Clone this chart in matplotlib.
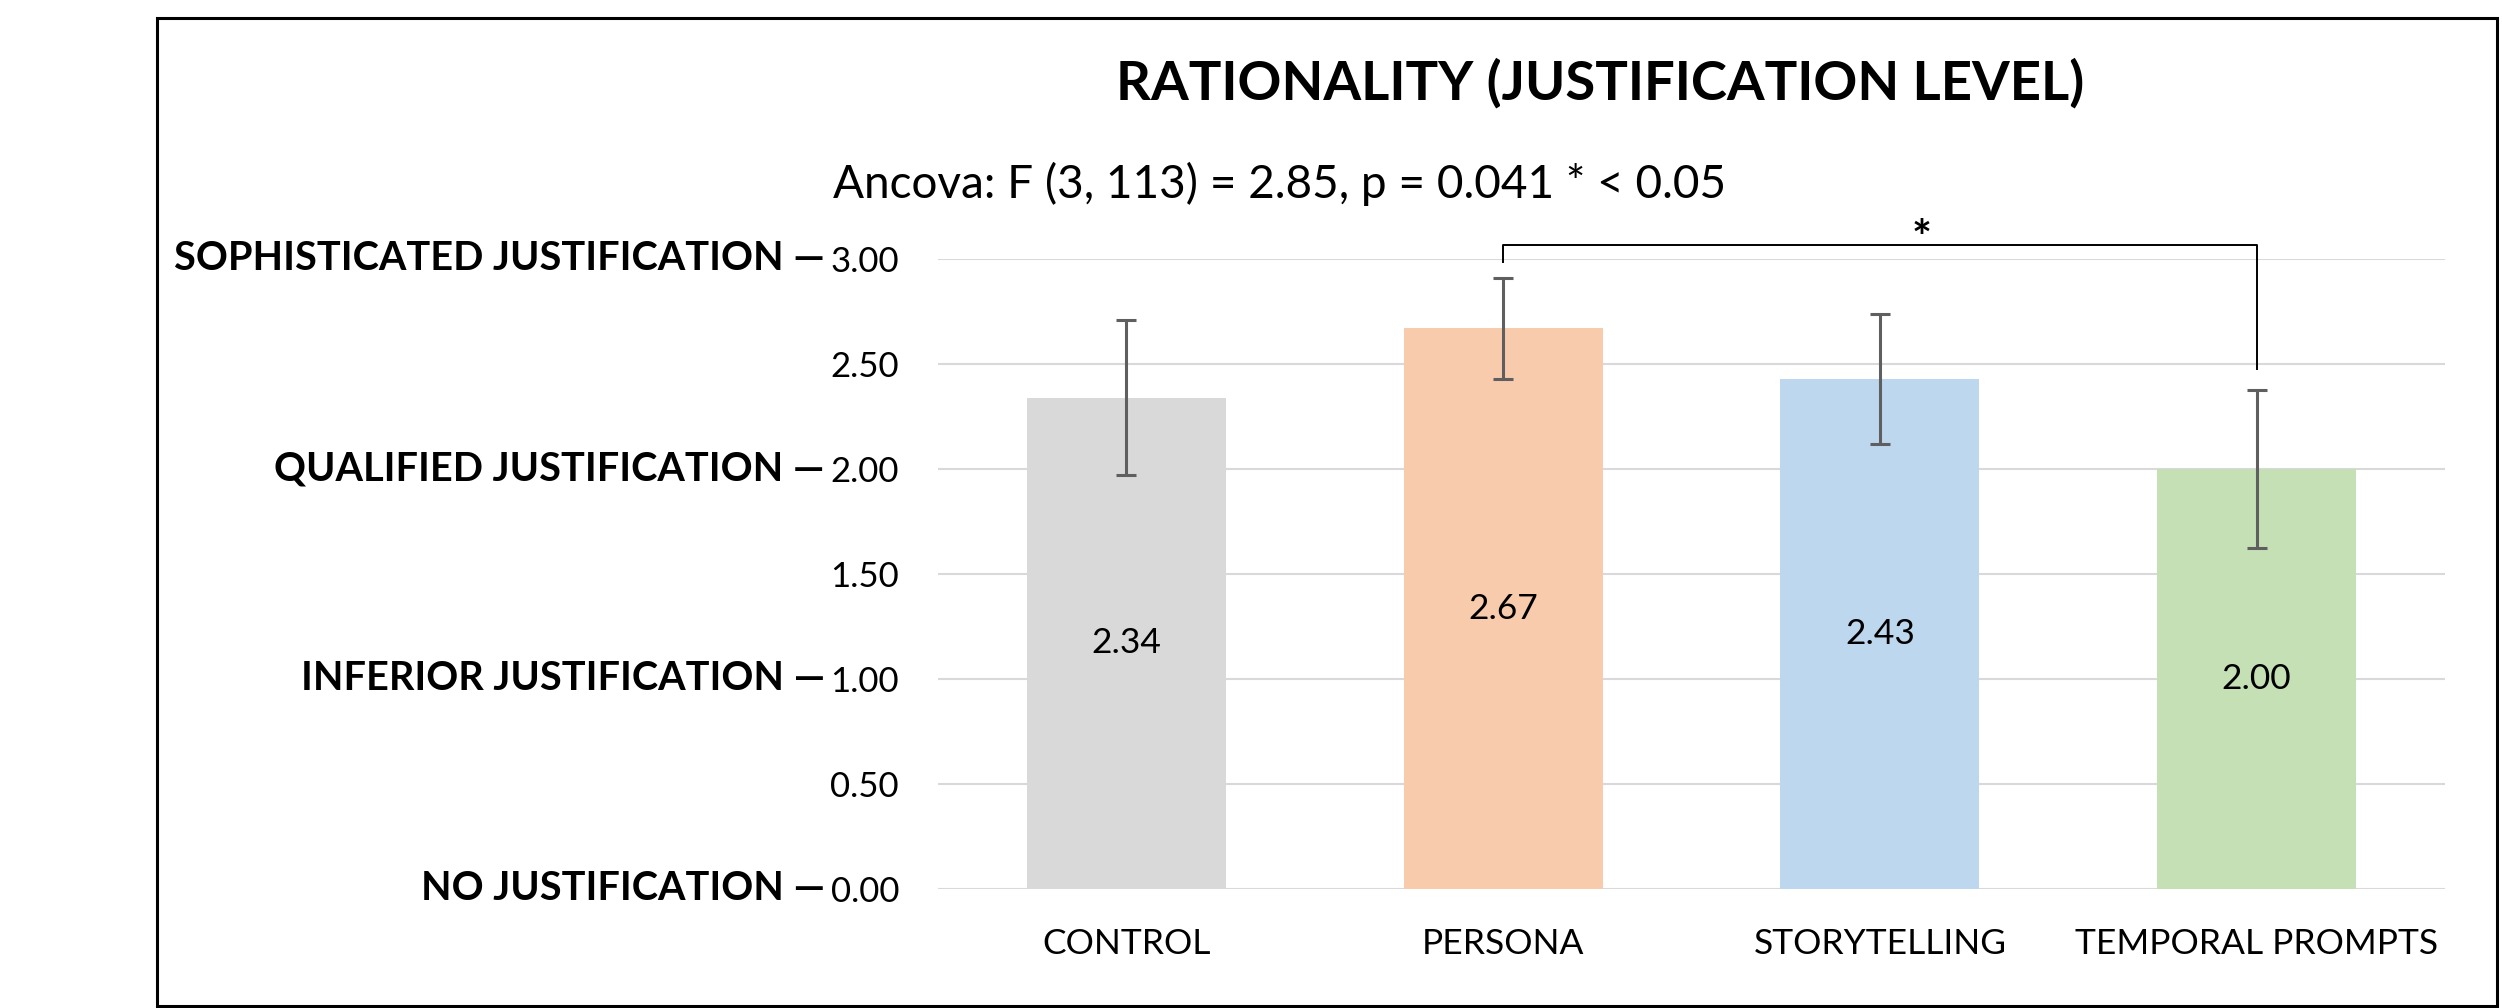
###############################################
# Rationality (justification level) bar chart #
###############################################

import numpy as np
import matplotlib.pyplot as plt
from matplotlib.patches import Rectangle

#############
# Data      #
#############
groups = ['CONTROL', 'PERSONA', 'STORYTELLING', 'TEMPORAL PROMPTS']
means = [2.34, 2.67, 2.43, 2.00]
errors = [0.37, 0.24, 0.31, 0.376]
bar_colors = ['#D9D9D9', '#F8CBAD', '#BDD7EE', '#C5E0B4']

y_ticks = [0.0, 0.5, 1.0, 1.5, 2.0, 2.5, 3.0]
level_values = [3.0, 2.0, 1.0, 0.0]
level_names = ['SOPHISTICATED JUSTIFICATION', 'QUALIFIED JUSTIFICATION',
               'INFERIOR JUSTIFICATION', 'NO JUSTIFICATION']

title = 'RATIONALITY (JUSTIFICATION LEVEL)'
subtitle = 'Ancova: F (3, 113) = 2.85, p = 0.041 * < 0.05'

# significant pair (persona vs temporal prompts)
sig_pair = (1, 3)

plt.rcParams['font.family'] = ['Lato', 'DejaVu Sans']

#############
# Plot      #
#############
fig = plt.figure(figsize=(25.02, 10.08), dpi=100)
ax = fig.add_axes([938 / 2502, 1 - 889 / 1008, 1507 / 2502, 630 / 1008])

x = np.arange(len(groups))
ax.bar(x, means, width=0.528, color=bar_colors, zorder=2)
ax.errorbar(x, means, yerr=errors, fmt='none', ecolor='#5F5F5F',
            elinewidth=2.2, capsize=7.5, capthick=2.2, zorder=3, clip_on=False)

# value labels in the middle of the bars
for xi, v in zip(x, means):
    ax.text(xi, v / 2, f'{v:.2f}', ha='center', va='center', fontsize=25.5, zorder=4)

ax.set_xlim(-0.5, len(groups) - 0.5)
ax.set_ylim(0, 3)
ax.set_yticks(y_ticks)
ax.set_yticklabels([f'{t:.2f}' for t in y_ticks])
ax.set_xticks(x)
ax.set_xticklabels(groups)
ax.tick_params(axis='y', length=0, pad=28, labelsize=25)
ax.tick_params(axis='x', length=0, pad=28, labelsize=25.5)

ax.grid(axis='y', color='#D9D9D9', linewidth=1.5, zorder=0)
ax.set_axisbelow(True)
for s in ax.spines.values():
    s.set_visible(False)

# bold level names left of the tick labels
ytrans = ax.get_yaxis_transform()
for v, name in zip(level_values, level_names):
    ax.text(-0.075, v, name + ' \u2014', transform=ytrans, ha='right', va='center',
            fontsize=28.5, fontweight='bold')

# significance bracket
a, b = sig_pair
ax.plot([a, a, b, b], [2.986, 3.067, 3.067, 2.476], color='black',
        linewidth=1.4, clip_on=False, zorder=5)
ax.text(2.112, 3.09, '*', ha='center', va='center', fontsize=34,
        fontweight='bold', clip_on=False)

# titles
fig.text(1600 / 2502, 1 - 100 / 1008, title, ha='center', va='baseline',
         fontsize=39.2, fontweight='bold')
fig.text(833 / 2502, 1 - 198 / 1008, subtitle, ha='left', va='baseline', fontsize=33)

# border around the chart
fig.patches.append(Rectangle((157 / 2502, 1 - 1006 / 1008), (2497 - 157) / 2502,
                             (1006 - 18) / 1008, transform=fig.transFigure,
                             fill=False, edgecolor='black', linewidth=2.2))

fig.savefig('out.png', dpi=100)
